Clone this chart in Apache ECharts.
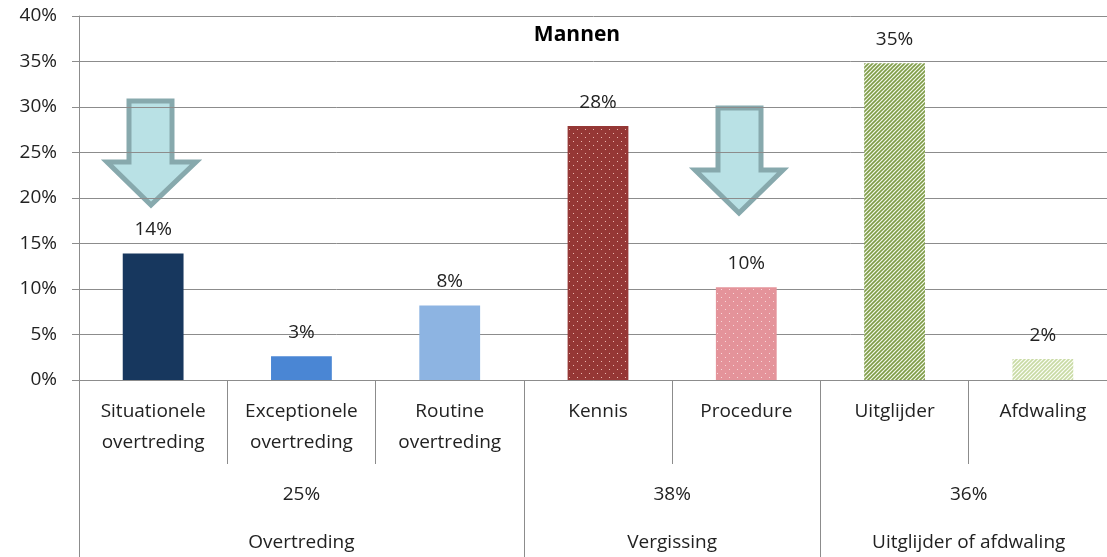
<!DOCTYPE html>
<html>
<head>
<meta charset="utf-8">
<script src="https://cdn.jsdelivr.net/npm/echarts@6/dist/echarts.min.js"></script>
<style>
html, body { margin: 0; padding: 0; background: #fff; }
#chart { width: 1107px; height: 557px; }
</style>
</head>
<body>
<div id="chart"></div>
<script>
// data
var categories = ['Situationele\novertreding', 'Exceptionele\novertreding', 'Routine\novertreding',
    'Kennis', 'Procedure', 'Uitglijder', 'Afdwaling'];
var values = [13.9, 2.6, 8.2, 27.9, 10.2, 34.8, 2.3];
var groupNames = ['Overtreding', 'Vergissing', 'Uitglijder of afdwaling'];
var groupShares = ['25%', '38%', '36%'];
var groupSizes = [3, 2, 2];
var yTicks = [0, 5, 10, 15, 20, 25, 30, 35, 40];

var FONT = '"Open Sans", "Noto Sans", sans-serif';
var FS = 19;

function dots(bg, dot) {
    var c = document.createElement('canvas');
    c.width = 8; c.height = 8;
    var ctx = c.getContext('2d');
    ctx.fillStyle = bg; ctx.fillRect(0, 0, 8, 8);
    ctx.fillStyle = dot;
    ctx.fillRect(1, 1, 1, 1);
    ctx.fillRect(5, 5, 1, 1);
    return { image: c, repeat: 'repeat' };
}
function stripes(bg, fg) {
    var c = document.createElement('canvas');
    c.width = 4; c.height = 4;
    var ctx = c.getContext('2d');
    ctx.fillStyle = bg; ctx.fillRect(0, 0, 4, 4);
    ctx.strokeStyle = fg; ctx.lineWidth = 1.6;
    ctx.beginPath();
    ctx.moveTo(-1, 5); ctx.lineTo(5, -1);
    ctx.moveTo(-1, 1); ctx.lineTo(1, -1);
    ctx.moveTo(3, 5); ctx.lineTo(5, 3);
    ctx.stroke();
    return { image: c, repeat: 'repeat' };
}

var fills = [
    '#17375e',
    '#4a86d4',
    '#8db4e2',
    dots('#953735', '#e9b6ae'),
    dots('#e4939a', '#f7d6d8'),
    stripes('#f4f8ec', '#7f9c48'),
    stripes('#fbfdf6', '#c8daa4')
];

// group axis: 15 points across the 7 categories (half-category steps)
var groupPoints = [];
for (var i = 0; i <= 14; i++) groupPoints.push('');
var groupTickIdx = [0];
var groupLabelIdx = [];
var acc = 0;
groupSizes.forEach(function (n, k) {
    groupLabelIdx.push(acc * 2 + n);
    acc += n;
    groupTickIdx.push(acc * 2);
    groupPoints[groupLabelIdx[k]] = groupShares[k] + '\n' + groupNames[k];
});

var chart = echarts.init(document.getElementById('chart'));
chart.setOption({
    animation: false,
    textStyle: { fontFamily: FONT },
    title: {
        text: 'Mannen',
        left: 572,
        top: 20,
        textAlign: 'center',
        textStyle: { fontSize: 21, fontWeight: 'bold', color: '#000', fontFamily: FONT }
    },
    grid: { left: 79, top: 16, width: 1038, height: 364, outerBoundsMode: 'none', containLabel: false },
    xAxis: [
        {
            type: 'category',
            data: categories,
            axisLine: { lineStyle: { color: '#8c8c8c', width: 1 } },
            axisTick: { show: true, interval: 0, alignWithLabel: false, length: 84, lineStyle: { color: '#8c8c8c' } },
            axisLabel: { color: '#222', fontSize: FS, lineHeight: 31, margin: 16, interval: 0, fontFamily: FONT }
        },
        {
            type: 'category',
            position: 'bottom',
            boundaryGap: false,
            data: groupPoints,
            axisLine: { show: false },
            axisTick: {
                show: true,
                length: 190,
                lineStyle: { color: '#8c8c8c' },
                interval: function (idx) { return groupTickIdx.indexOf(idx) >= 0; }
            },
            axisLabel: {
                color: '#222', fontSize: FS, lineHeight: 48, margin: 91,
                interval: function (idx) { return groupLabelIdx.indexOf(idx) >= 0; },
                fontFamily: FONT
            }
        }
    ],
    yAxis: {
        type: 'value',
        min: yTicks[0],
        max: yTicks[yTicks.length - 1],
        interval: 5,
        axisLine: { show: true, lineStyle: { color: '#8c8c8c' } },
        axisTick: { show: true, length: 7, lineStyle: { color: '#8c8c8c' } },
        splitLine: { lineStyle: { color: '#8c8c8c' } },
        axisLabel: { formatter: '{value}%', color: '#222', fontSize: FS, margin: 22, fontFamily: FONT }
    },
    series: [{
        type: 'bar',
        xAxisIndex: 0,
        barWidth: '41%',
        data: values.map(function (v, i) {
            return { value: v, itemStyle: { color: fills[i] } };
        }),
        label: {
            show: true,
            position: 'top',
            distance: 14,
            color: '#222',
            fontSize: FS,
            fontFamily: FONT,
            formatter: function (p) { return Math.round(p.value) + '%'; }
        }
    }],
    graphic: [
        {
            type: 'polygon',
            shape: { points: [[129, 101], [172, 101], [172, 162], [196, 162], [151, 205], [107, 162], [129, 162]] },
            style: { fill: '#b9e1e5', stroke: '#87a9ad', lineWidth: 5 }
        },
        {
            type: 'polygon',
            shape: { points: [[718, 108], [761, 108], [761, 170], [783, 170], [739, 213], [695, 170], [718, 170]] },
            style: { fill: '#b9e1e5', stroke: '#87a9ad', lineWidth: 5 }
        }
    ]
});
</script>
</body>
</html>
